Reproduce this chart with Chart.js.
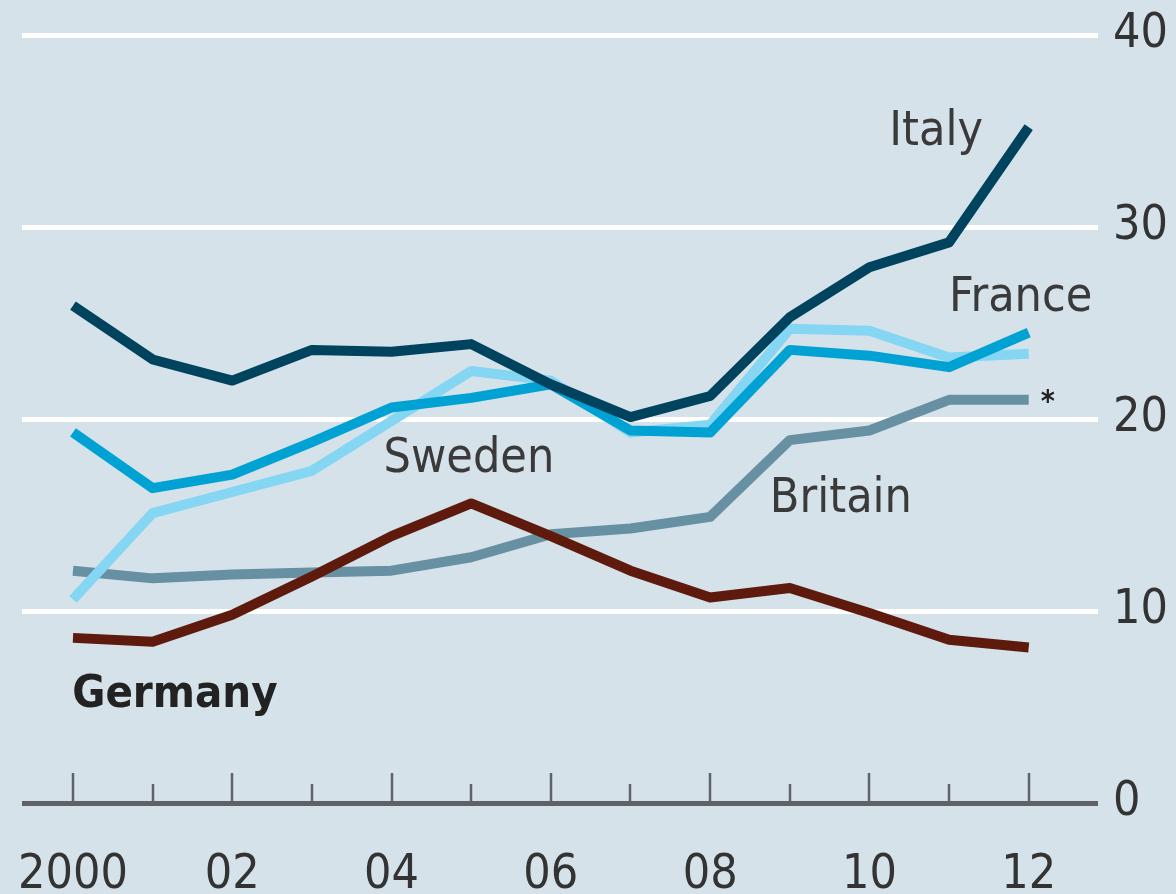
<!DOCTYPE html>
<html>
<head>
<meta charset="utf-8">
<script src="https://cdn.jsdelivr.net/npm/chart.js@4/dist/chart.umd.min.js"></script>
<style>
  html, body { margin: 0; padding: 0; background: #d6e2e9; }
  #wrap { width: 1176px; height: 894px; }
</style>
</head>
<body>
<div id="wrap"><canvas id="myChart" width="1176" height="894"></canvas></div>
<script>
const years = [2000, 2001, 2002, 2003, 2004, 2005, 2006, 2007, 2008, 2009, 2010, 2011, 2012];
const italy   = [25.9, 23.1, 22.0, 23.6, 23.5, 23.9, 21.8, 20.1, 21.2, 25.3, 27.9, 29.2, 35.2];
const france  = [19.3, 16.4, 17.1, 18.8, 20.6, 21.1, 21.8, 19.4, 19.3, 23.6, 23.3, 22.7, 24.5];
const sweden  = [10.6, 15.1, 16.2, 17.3, 19.9, 22.5, 22.0, 19.3, 19.7, 24.7, 24.6, 23.2, 23.4];
const britain = [12.1, 11.7, 11.9, 12.0, 12.1, 12.8, 14.0, 14.3, 14.9, 18.9, 19.4, 21.0, 21.0];
const germany = [8.6, 8.4, 9.8, 11.8, 13.9, 15.6, 13.9, 12.1, 10.7, 11.2, 9.9, 8.5, 8.1];

const yTicks = [0, 10, 20, 30, 40];
const xTicks = [2000, 2002, 2004, 2006, 2008, 2010, 2012];
const xTickLabels = ['2000', '02', '04', '06', '08', '10', '12'];

// series labels placed in data space: [text, year, value, bold]
const seriesLabels = [
  ['Italy', 2010.25, 34.9, false],
  ['France', 2011.0, 26.3, false],
  ['Sweden', 2003.9, 17.9, false],
  ['Britain', 2008.75, 15.8, false],
  ['Germany', 1999.99, 5.6, true]
];

const FONT = "'DejaVu Sans Condensed', 'Liberation Sans Narrow', sans-serif";
const BG = '#d6e2e9';
const AXIS = '#5f6367';

const pts = arr => years.map((y, i) => ({ x: y, y: arr[i] }));

const extras = {
  id: 'extras',
  beforeDraw(chart) {
    const c = chart.ctx;
    c.save();
    c.fillStyle = BG;
    c.fillRect(0, 0, chart.width, chart.height);
    c.restore();
  },
  afterDatasetsDraw(chart) {
    const c = chart.ctx;
    const xs = chart.scales.x, ys = chart.scales.y;
    const base = ys.getPixelForValue(0);
    c.save();
    // year ticks on the zero line
    c.strokeStyle = AXIS;
    c.lineWidth = 2.5;
    years.forEach(yr => {
      const px = Math.round(xs.getPixelForValue(yr));
      const h = yr % 2 === 0 ? 30 : 19;
      c.beginPath();
      c.moveTo(px, base);
      c.lineTo(px, base - h);
      c.stroke();
    });
    // series names
    c.textBaseline = 'middle';
    c.textAlign = 'left';
    seriesLabels.forEach(([t, x, v, bold]) => {
      c.font = (bold ? 'bold 45px ' : '48px ') + FONT;
      c.fillStyle = bold ? '#222222' : '#3a3a3a';
      c.fillText(t, xs.getPixelForValue(x), ys.getPixelForValue(v));
    });
    c.font = 'bold 30px ' + FONT;
    c.fillStyle = '#222222';
    c.fillText('*', xs.getPixelForValue(2012.15), ys.getPixelForValue(20.8));
    c.restore();
  }
};

const ctx = document.getElementById('myChart');

new Chart(ctx, {
  type: 'line',
  data: {
    datasets: [
      { label: 'Italy', data: pts(italy), borderColor: '#00435f' },
      { label: 'Germany', data: pts(germany), borderColor: '#5e1b0d' },
      { label: 'France', data: pts(france), borderColor: '#00a2d4' },
      { label: 'Sweden', data: pts(sweden), borderColor: '#85d6f3' },
      { label: 'Britain', data: pts(britain), borderColor: '#6790a3' }
    ]
  },
  options: {
    responsive: false,
    animation: false,
    devicePixelRatio: 1,
    layout: { padding: { left: 22, top: 35, right: 0, bottom: 0 } },
    elements: {
      line: { borderWidth: 10, tension: 0, borderJoinStyle: 'round', borderCapStyle: 'butt' },
      point: { radius: 0 }
    },
    plugins: { legend: { display: false }, tooltip: { enabled: false } },
    scales: {
      x: {
        type: 'linear',
        min: 1999.36,
        max: 2012.87,
        grid: { display: false },
        border: { display: false },
        afterBuildTicks: s => { s.ticks = xTicks.map(v => ({ value: v })); },
        afterFit: s => {
          s.height = 91;
          s.paddingLeft = 0; s.paddingRight = 0;
        },
        ticks: {
          padding: 36,
          color: '#333333',
          font: { family: FONT, size: 48 },
          maxRotation: 0,
          autoSkip: false,
          callback: v => xTickLabels[xTicks.indexOf(v)]
        }
      },
      y: {
        position: 'right',
        min: 0,
        max: 40,
        border: { display: false },
        afterBuildTicks: s => { s.ticks = yTicks.map(v => ({ value: v })); },
        afterFit: s => {
          s.width = 78;
          s.paddingTop = 0; s.paddingBottom = 0;
        },
        grid: {
          drawTicks: false,
          color: c => c.tick && c.tick.value === 0 ? AXIS : '#ffffff',
          lineWidth: 5
        },
        ticks: {
          padding: 15,
          color: '#333333',
          font: { family: FONT, size: 48 }
        }
      }
    }
  },
  plugins: [extras]
});
</script>
</body>
</html>
